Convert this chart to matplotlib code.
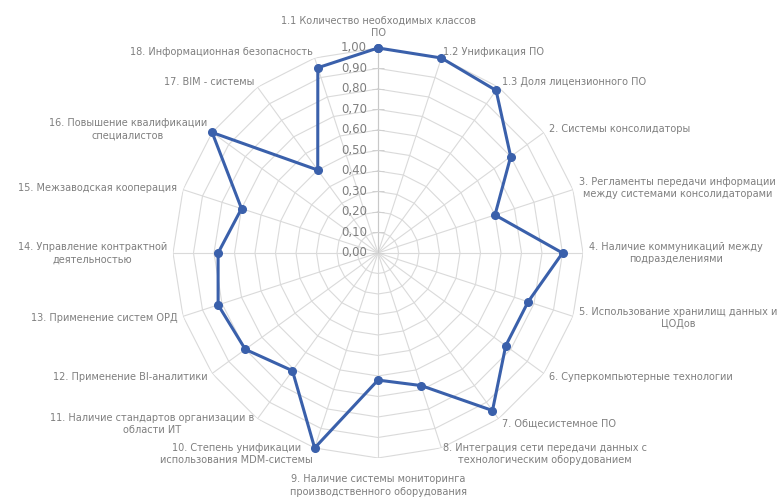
import numpy as np
import matplotlib.pyplot as plt

# подписи категорий (по часовой стрелке от верха)
categories = [
    '1.1 Количество необходимых классов\nПО',
    '1.2 Унификация ПО',
    '1.3 Доля лицензионного ПО',
    '2. Системы консолидаторы',
    '3. Регламенты передачи информации\nмежду системами консолидаторами',
    '4. Наличие коммуникаций между\nподразделениями',
    '5. Использование хранилищ данных и\nЦОДов',
    '6. Суперкомпьютерные технологии',
    '7. Общесистемное ПО',
    '8. Интеграция сети передачи данных с\nтехнологическим оборудованием',
    '9. Наличие системы мониторинга\nпроизводственного оборудования',
    '10. Степень унификации\nиспользования MDM-системы',
    '11. Наличие стандартов организации в\nобласти ИТ',
    '12. Применение BI-аналитики',
    '13. Применение систем ОРД',
    '14. Управление контрактной\nдеятельностью',
    '15. Межзаводская кооперация',
    '16. Повышение квалификации\nспециалистов',
    '17. BIM - системы',
    '18. Информационная безопасность',
]
values = [1.00, 1.00, 0.98, 0.80, 0.60, 0.90, 0.77, 0.77, 0.95, 0.68,
          0.62, 1.00, 0.71, 0.80, 0.82, 0.78, 0.70, 1.00, 0.50, 0.95]
ticks = [0.0, 0.1, 0.2, 0.3, 0.4, 0.5, 0.6, 0.7, 0.8, 0.9, 1.0]
tick_labels = ['0,00', '0,10', '0,20', '0,30', '0,40', '0,50',
               '0,60', '0,70', '0,80', '0,90', '1,00']

n = len(categories)
theta = np.arange(n) * 2 * np.pi / n
theta_c = np.append(theta, theta[0])
vals_c = np.append(values, values[0])

grid_col = '#dadada'
text_col = '#7f7f7f'
line_col = '#3a60ab'

fig = plt.figure(figsize=(7.81, 4.97), dpi=100)
ax = fig.add_axes([0.2215, 0.0785, 0.525, 0.825], projection='polar')
ax.set_theta_offset(np.pi / 2)
ax.set_theta_direction(-1)
ax.set_ylim(0, 1.0)
ax.grid(False)
ax.spines['polar'].set_visible(False)
ax.set_xticks([])
ax.set_yticks([])

# сетка-многоугольники
for t in ticks[1:]:
    ax.plot(theta_c, [t] * (n + 1), color=grid_col, lw=0.8, zorder=1)
for th in theta:
    ax.plot([th, th], [0, 1.0], color=grid_col, lw=0.8, zorder=1)
ax.plot([0, 0], [0, 1.0], color='#c8c8c8', lw=0.8, zorder=1)
ax.plot([0] * len(ticks), ticks, ls='none', marker='_', ms=8,
        mec='#d0d0d0', mew=0.7, zorder=1)

# подписи шкалы
for t, lab in zip(ticks, tick_labels):
    ax.annotate(lab, xy=(0, t), xytext=(-8, 0), textcoords='offset points',
                ha='right', va='center', fontsize=8.5, color=text_col)

# ряд данных
ax.plot(theta_c, vals_c, color=line_col, lw=2.2, marker='o', ms=5.5,
        zorder=3, clip_on=False)

# подписи категорий
for th, lab in zip(theta, categories):
    scr = np.pi / 2 - th
    c, s = np.cos(scr), np.sin(scr)
    ha = 'left' if c > 0.1 else ('right' if c < -0.1 else 'center')
    pad = 1.03
    if s > 0.99:
        va = 'bottom'
        pad = 1.05
    elif s < -0.99:
        va = 'top'
        pad = 1.08
    else:
        va = 'center'
    ax.text(th, pad, lab, ha=ha, va=va, ma='center', fontsize=7.0,
            color=text_col, linespacing=1.3)

fig.savefig('out.png', dpi=100)
